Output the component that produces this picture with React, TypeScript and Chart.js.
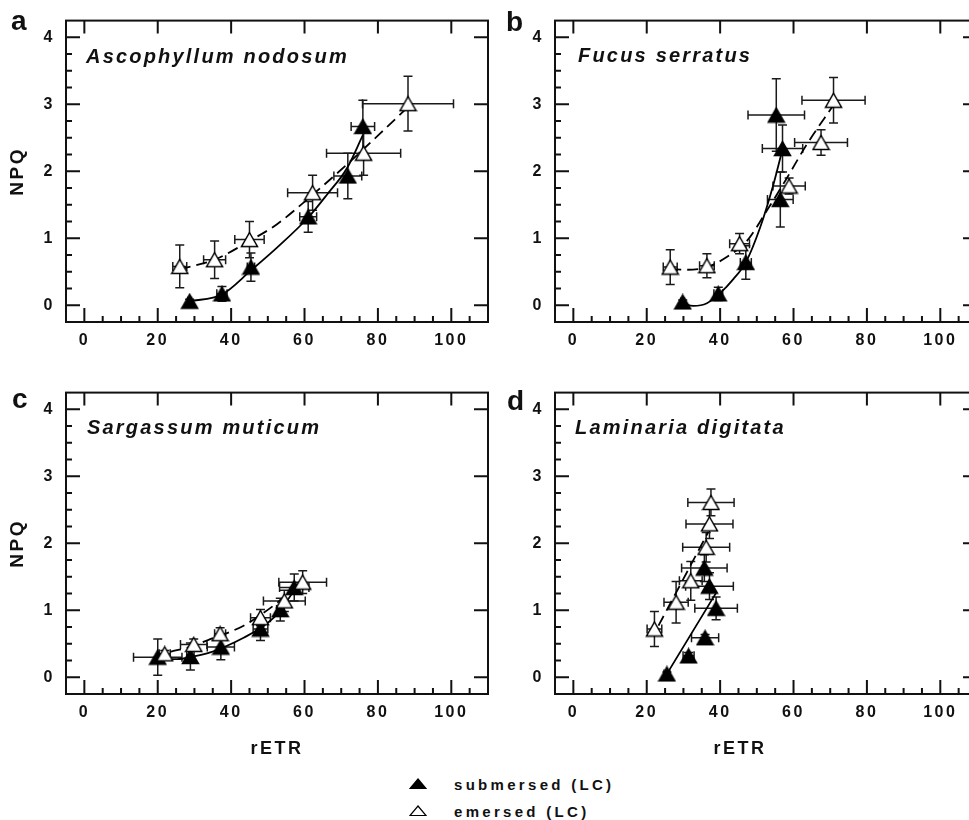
import React, { useEffect, useRef } from 'react';
import { Chart, registerables } from 'chart.js';

Chart.register(...registerables);

const FONT = '"Liberation Sans", Arial, Helvetica, sans-serif';
const INK = '#111111';

// axes
const X_MIN = -5;
const X_MAX = 110;
const Y_MIN = -0.25;
const Y_MAX = 4.25;
const xTickValues = [0, 20, 40, 60, 80, 100];
const yTickValues = [0, 1, 2, 3, 4];
const xMinorStep = 5;
const yMinorStep = 0.25;

// panel a: Ascophyllum nodosum
const aSubX = [28.7, 37.5, 45.4, 61.0, 71.8, 75.9];
const aSubY = [0.06, 0.17, 0.57, 1.32, 1.93, 2.67];
const aSubXErr = [0.5, 1.4, 1.0, 2.3, 3.8, 3.2];
const aSubYErr = [0.03, 0.11, 0.21, 0.23, 0.34, 0.39];
const aEmX = [26.0, 35.5, 45.0, 62.2, 76.1, 88.2];
const aEmY = [0.58, 0.68, 0.98, 1.68, 2.27, 3.01];
const aEmXErr = [1.9, 3.0, 4.0, 6.8, 10.1, 12.4];
const aEmYErr = [0.32, 0.28, 0.27, 0.26, 0.33, 0.41];
const aSubFitX = [28.7, 37.5, 45.4, 52.5, 61.0, 66.1, 71.6, 75.9];
const aSubFitY = [0.06, 0.16, 0.52, 0.86, 1.31, 1.65, 2.05, 2.54];
const aEmFitX = [26.0, 35.5, 45.0, 52.5, 62.2, 72.5, 80.7, 88.2];
const aEmFitY = [0.54, 0.68, 0.96, 1.21, 1.65, 2.15, 2.57, 2.96];

// panel b: Fucus serratus
const bSubX = [29.8, 39.5, 47.0, 56.4, 57.0, 55.3];
const bSubY = [0.05, 0.17, 0.64, 1.58, 2.34, 2.84];
const bSubXErr = [0.5, 1.2, 1.5, 3.5, 5.5, 7.7];
const bSubYErr = [0.03, 0.1, 0.25, 0.41, 0.35, 0.54];
const bEmX = [26.4, 36.4, 45.3, 58.8, 67.5, 70.9];
const bEmY = [0.57, 0.59, 0.92, 1.78, 2.43, 3.06];
const bEmXErr = [1.9, 2.0, 2.7, 4.4, 7.2, 8.6];
const bEmYErr = [0.26, 0.18, 0.15, 0.12, 0.19, 0.34];
const bSubFitX = [29.8, 32.7, 36.4, 40.0, 43.6, 47.0, 50.9, 54.5, 57.0];
const bSubFitY = [0.03, -0.01, 0.03, 0.18, 0.39, 0.64, 1.16, 1.8, 2.33];
const bEmFitX = [26.4, 30.9, 36.4, 41.8, 47.3, 52.7, 58.2, 63.6, 70.9];
const bEmFitY = [0.54, 0.53, 0.57, 0.72, 0.96, 1.41, 1.9, 2.4, 2.99];

// panel c: Sargassum muticum
const cSubX = [20.0, 28.9, 37.2, 48.0, 53.4, 57.2];
const cSubY = [0.3, 0.31, 0.45, 0.72, 1.01, 1.34];
const cSubXErr = [6.6, 1.0, 3.7, 2.0, 1.0, 4.0];
const cSubYErr = [0.27, 0.2, 0.19, 0.17, 0.17, 0.2];
const cEmX = [21.9, 29.8, 37.0, 48.0, 54.5, 59.5];
const cEmY = [0.35, 0.49, 0.65, 0.89, 1.14, 1.42];
const cEmXErr = [1.5, 3.6, 1.5, 2.7, 5.7, 6.5];
const cEmYErr = [0.05, 0.08, 0.09, 0.12, 0.16, 0.17];
const cSubFitX = [20.0, 25.2, 29.8, 34.3, 38.9, 43.4, 47.9, 52.5, 57.0];
const cSubFitY = [0.27, 0.27, 0.31, 0.37, 0.47, 0.59, 0.73, 0.94, 1.28];
const cEmFitX = [23.4, 29.8, 34.3, 38.9, 43.4, 48.0, 52.5, 57.0, 58.9];
const cEmFitY = [0.38, 0.47, 0.57, 0.66, 0.77, 0.93, 1.11, 1.33, 1.43];

// panel d: Laminaria digitata
const dSubX = [25.5, 31.4, 35.9, 38.9, 37.1, 35.7];
const dSubY = [0.05, 0.32, 0.59, 1.03, 1.36, 1.63];
const dSubXErr = [0.8, 1.5, 3.7, 5.8, 6.5, 6.2];
const dSubYErr = [0.03, 0.05, 0.05, 0.17, 0.2, 0.2];
const dEmX = [22.1, 28.0, 32.0, 36.2, 37.1, 37.5];
const dEmY = [0.72, 1.12, 1.44, 1.94, 2.29, 2.61];
const dEmXErr = [2.0, 3.3, 3.1, 6.4, 6.4, 6.3];
const dEmYErr = [0.26, 0.31, 0.29, 0.22, 0.22, 0.2];
const dSubFitX = [25.5, 38.9];
const dSubFitY = [0.05, 1.26];
const dEmFitX = [23.2, 36.8];
const dEmFitY = [0.77, 2.17];

const panelLetters = ['a', 'b', 'c', 'd'];
const speciesNames = ['Ascophyllum nodosum', 'Fucus serratus', 'Sargassum muticum', 'Laminaria digitata'];
const legendLabels = ['submersed (LC)', 'emersed (LC)'];
const xTitle = 'rETR';
const yTitle = 'NPQ';

type Panel = {
  left: number; top: number; width: number; height: number; xAxisH: number;
  padLeft: number; yAxisW: number;
  yTitleOn: boolean; xTitle: 'none' | 'scale' | 'plugin';
  subX: number[]; subY: number[]; subXErr: number[]; subYErr: number[];
  emX: number[]; emY: number[]; emXErr: number[]; emYErr: number[];
  subFitX: number[]; subFitY: number[]; emFitX: number[]; emFitY: number[];
};

const panels: Panel[] = [
  { left: 0, top: 0, width: 500, height: 372, xAxisH: 50, padLeft: 0, yAxisW: 66, yTitleOn: true, xTitle: 'none',
    subX: aSubX, subY: aSubY, subXErr: aSubXErr, subYErr: aSubYErr, emX: aEmX, emY: aEmY, emXErr: aEmXErr, emYErr: aEmYErr,
    subFitX: aSubFitX, subFitY: aSubFitY, emFitX: aEmFitX, emFitY: aEmFitY },
  { left: 489, top: 0, width: 500, height: 372, xAxisH: 50, padLeft: 0, yAxisW: 66, yTitleOn: false, xTitle: 'none',
    subX: bSubX, subY: bSubY, subXErr: bSubXErr, subYErr: bSubYErr, emX: bEmX, emY: bEmY, emXErr: bEmXErr, emYErr: bEmYErr,
    subFitX: bSubFitX, subFitY: bSubFitY, emFitX: bEmFitX, emFitY: bEmFitY },
  { left: 0, top: 372, width: 500, height: 402, xAxisH: 80, padLeft: 0, yAxisW: 66, yTitleOn: true, xTitle: 'scale',
    subX: cSubX, subY: cSubY, subXErr: cSubXErr, subYErr: cSubYErr, emX: cEmX, emY: cEmY, emXErr: cEmXErr, emYErr: cEmYErr,
    subFitX: cSubFitX, subFitY: cSubFitY, emFitX: cEmFitX, emFitY: cEmFitY },
  { left: 489, top: 372, width: 500, height: 402, xAxisH: 80, padLeft: 14, yAxisW: 52, yTitleOn: false, xTitle: 'plugin',
    subX: dSubX, subY: dSubY, subXErr: dSubXErr, subYErr: dSubYErr, emX: dEmX, emY: dEmY, emXErr: dEmXErr, emYErr: dEmYErr,
    subFitX: dSubFitX, subFitY: dSubFitY, emFitX: dEmFitX, emFitY: dEmFitY },
];

const pts = (xs: number[], ys: number[]) => xs.map((x, i) => ({ x, y: ys[i] }));

function makeTriangle(filled: boolean): HTMLCanvasElement {
  const w = 19;
  const h = 17;
  const c = document.createElement('canvas');
  c.width = w;
  c.height = h;
  const ctx = c.getContext('2d')!;
  ctx.beginPath();
  ctx.moveTo(w / 2, 1.5);
  ctx.lineTo(w - 1.5, h - 1.5);
  ctx.lineTo(1.5, h - 1.5);
  ctx.closePath();
  ctx.fillStyle = filled ? '#000' : '#fff';
  ctx.fill();
  ctx.lineWidth = 1.5;
  ctx.strokeStyle = '#000';
  ctx.stroke();
  return c;
}

const spacingPlugin = {
  id: 'spacing',
  beforeDraw(chart: any) {
    chart.ctx.letterSpacing = '2.5px';
  },
};

const errorBarPlugin = {
  id: 'errorBars',
  beforeDatasetsDraw(chart: any) {
    const { ctx } = chart;
    const xs = chart.scales.x;
    const ys = chart.scales.y;
    ctx.save();
    ctx.strokeStyle = '#1a1a1a';
    ctx.lineWidth = 1.5;
    const cap = 4.5;
    chart.data.datasets.forEach((ds: any) => {
      if (!ds.errX) return;
      ds.data.forEach((p: any, i: number) => {
        const px = xs.getPixelForValue(p.x);
        const py = ys.getPixelForValue(p.y);
        const x1 = xs.getPixelForValue(p.x - ds.errX[i]);
        const x2 = xs.getPixelForValue(p.x + ds.errX[i]);
        const y1 = ys.getPixelForValue(p.y - ds.errY[i]);
        const y2 = ys.getPixelForValue(p.y + ds.errY[i]);
        ctx.beginPath();
        ctx.moveTo(x1, py); ctx.lineTo(x2, py);
        ctx.moveTo(x1, py - cap); ctx.lineTo(x1, py + cap);
        ctx.moveTo(x2, py - cap); ctx.lineTo(x2, py + cap);
        ctx.moveTo(px, y1); ctx.lineTo(px, y2);
        ctx.moveTo(px - cap, y1); ctx.lineTo(px + cap, y1);
        ctx.moveTo(px - cap, y2); ctx.lineTo(px + cap, y2);
        ctx.stroke();
      });
    });
    ctx.restore();
  },
};

const framePlugin = {
  id: 'frame',
  afterDraw(chart: any) {
    const { ctx, chartArea } = chart;
    const { left, right, top, bottom } = chartArea;
    const xs = chart.scales.x;
    const ys = chart.scales.y;
    ctx.save();
    ctx.strokeStyle = INK;
    ctx.lineWidth = 2;
    ctx.beginPath();
    const nx = Math.round((X_MAX - X_MIN) / xMinorStep);
    for (let i = 1; i < nx; i++) {
      const v = X_MIN + i * xMinorStep;
      const px = xs.getPixelForValue(v);
      const major = xTickValues.includes(v);
      ctx.moveTo(px, bottom);
      ctx.lineTo(px, bottom - (major ? 14 : 6));
      if (major) {
        ctx.moveTo(px, top);
        ctx.lineTo(px, top + 13);
      }
    }
    const ny = Math.round((Y_MAX - Y_MIN) / yMinorStep);
    for (let i = 1; i < ny; i++) {
      const v = Y_MIN + i * yMinorStep;
      const py = ys.getPixelForValue(v);
      const major = yTickValues.some((t) => Math.abs(t - v) < 1e-6);
      ctx.moveTo(left, py);
      ctx.lineTo(left + (major ? 14 : 6), py);
      if (major) {
        ctx.moveTo(right, py);
        ctx.lineTo(right - 14, py);
      }
    }
    ctx.stroke();
    ctx.strokeRect(left, top, right - left, bottom - top);
    ctx.restore();
  },
};

function buildConfig(p: Panel): any {
  const subTri = makeTriangle(true);
  const emTri = makeTriangle(false);
  const tickFont = { family: FONT, size: 16, weight: 'bold' as const };
  const titleFont = { family: FONT, size: 18, weight: 'bold' as const };
  return {
    type: 'scatter',
    data: {
      datasets: [
        { label: legendLabels[1], data: pts(p.emX, p.emY), errX: p.emXErr, errY: p.emYErr,
          pointStyle: emTri, pointRadius: 8, showLine: false },
        { label: legendLabels[0], data: pts(p.subX, p.subY), errX: p.subXErr, errY: p.subYErr,
          pointStyle: subTri, pointRadius: 8, showLine: false },
        { label: 'emersed fit', data: pts(p.emFitX, p.emFitY), showLine: true, pointRadius: 0,
          borderColor: '#000', borderWidth: 1.8, borderDash: [11, 6], cubicInterpolationMode: 'monotone', fill: false },
        { label: 'submersed fit', data: pts(p.subFitX, p.subFitY), showLine: true, pointRadius: 0,
          borderColor: '#000', borderWidth: 1.8, cubicInterpolationMode: 'monotone', fill: false },
      ],
    },
    options: {
      responsive: false,
      animation: false,
      events: [],
      layout: { padding: { top: 18, right: 12, left: p.padLeft, bottom: 0 } },
      plugins: {
        legend: { display: false },
        tooltip: { enabled: false },
        title: {
          display: p.xTitle === 'plugin',
          position: 'bottom',
          text: xTitle,
          color: INK,
          font: titleFont,
          padding: { top: 0, bottom: 14 },
        },
      },
      scales: {
        x: {
          type: 'linear',
          min: X_MIN,
          max: X_MAX,
          afterBuildTicks: (s: any) => { s.ticks = xTickValues.map((v) => ({ value: v })); },
          afterFit: (s: any) => { s.height = p.xTitle === 'plugin' ? p.xAxisH - 35.6 : p.xAxisH; },
          grid: { display: false, drawTicks: false },
          border: { display: false },
          ticks: { font: tickFont, color: INK, padding: 9, maxRotation: 0, autoSkip: false, callback: (v: any) => String(v) },
          title: { display: p.xTitle === 'scale', text: xTitle, color: INK, font: titleFont, padding: { top: 0, bottom: 14 } },
        },
        y: {
          type: 'linear',
          min: Y_MIN,
          max: Y_MAX,
          afterBuildTicks: (s: any) => { s.ticks = yTickValues.map((v) => ({ value: v })); },
          afterFit: (s: any) => { s.width = p.yAxisW; },
          grid: { display: false, drawTicks: false },
          border: { display: false },
          ticks: { font: tickFont, color: INK, padding: 11, autoSkip: false, callback: (v: any) => String(v) },
          title: { display: p.yTitleOn, text: yTitle, color: INK, font: { family: FONT, size: 19, weight: 'bold' }, padding: { top: 6, bottom: 0 } },
        },
      },
    },
    plugins: [spacingPlugin, errorBarPlugin, framePlugin],
  };
}

const letterPos = [
  { left: 11, top: 7 },
  { left: 506, top: 8 },
  { left: 12, top: 385 },
  { left: 507, top: 387 },
];
const speciesPos = [
  { left: 86, top: 46 },
  { left: 578, top: 45 },
  { left: 87, top: 417 },
  { left: 575, top: 417 },
];
const legendTops = [779, 806];

export default function App() {
  const refs = useRef<(HTMLCanvasElement | null)[]>([]);

  useEffect(() => {
    const charts = panels.map((p, i) => new Chart(refs.current[i] as HTMLCanvasElement, buildConfig(p)));
    return () => charts.forEach((c) => c.destroy());
  }, []);

  return (
    <div style={{ position: 'fixed', left: 0, top: 0, width: 969, height: 820, overflow: 'hidden', background: '#fff', fontFamily: FONT, color: INK }}>
      {panels.map((p, i) => (
        <canvas
          key={i}
          ref={(el) => { refs.current[i] = el; }}
          width={p.width}
          height={p.height}
          style={{ position: 'absolute', left: p.left, top: p.top, width: p.width, height: p.height }}
        />
      ))}
      {panelLetters.map((l, i) => (
        <div key={'l' + i} style={{ position: 'absolute', left: letterPos[i].left, top: letterPos[i].top, fontSize: 28, lineHeight: '28px', fontWeight: 'bold' }}>{l}</div>
      ))}
      {speciesNames.map((s, i) => (
        <div key={'s' + i} style={{ position: 'absolute', left: speciesPos[i].left, top: speciesPos[i].top, fontSize: 20, lineHeight: '20px', fontWeight: 'bold', fontStyle: 'italic', letterSpacing: '2.2px', whiteSpace: 'nowrap' }}>{s}</div>
      ))}
      {legendLabels.map((lab, i) => (
        <React.Fragment key={lab}>
          <svg width={18} height={12} style={{ position: 'absolute', left: 409, top: legendTops[i] - 1, display: 'block' }}>
            <polygon points="9,1 17,10.5 1,10.5" fill={i === 0 ? '#000' : '#fff'} stroke="#000" strokeWidth={1.2} />
          </svg>
          <div style={{ position: 'absolute', left: 454, top: legendTops[i] - 2.5, fontSize: 15, lineHeight: '15px', fontWeight: 'bold', letterSpacing: '3.3px', whiteSpace: 'nowrap' }}>{lab}</div>
        </React.Fragment>
      ))}
    </div>
  );
}
